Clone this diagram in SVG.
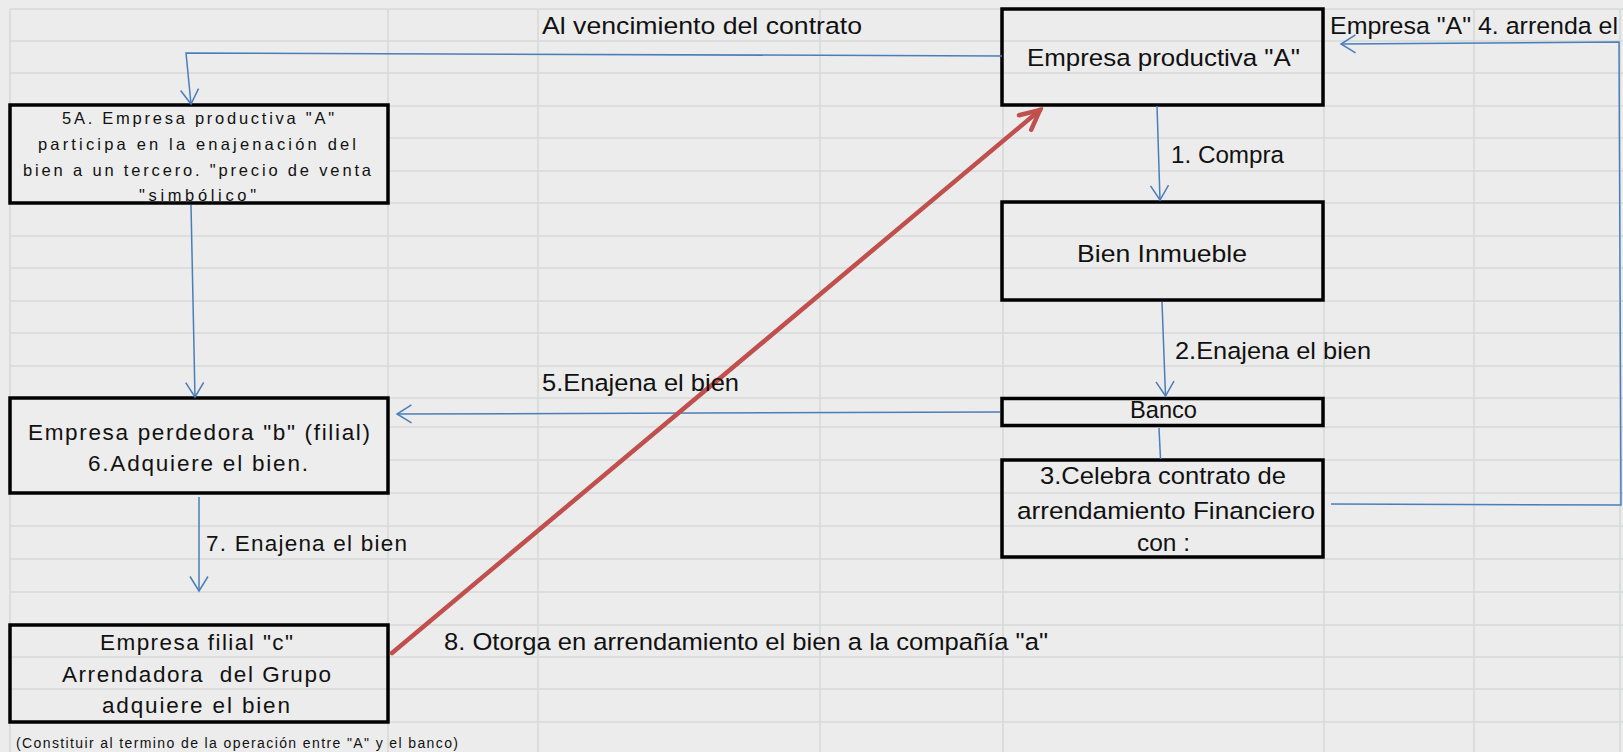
<svg xmlns="http://www.w3.org/2000/svg" width="1623" height="752" viewBox="0 0 1623 752">
<style>
.bg{fill:#ececec}
.grid line{stroke:#d7d9d9;stroke-width:1.6}
.box{fill:none;stroke:#000;stroke-width:3.5}
.boxf{fill:#ededed;stroke:#000;stroke-width:3.5}
.t{font-family:"Liberation Sans",Arial,sans-serif;font-size:24.5px;fill:#111}
.s{font-family:"Liberation Sans",Arial,sans-serif;font-size:16.5px;fill:#111}
.m{font-family:"Liberation Sans",Arial,sans-serif;font-size:22.5px;fill:#111}
.f{font-family:"Liberation Sans",Arial,sans-serif;font-size:14px;fill:#111}
.c{fill:none;stroke:#4a7ebb;stroke-width:1.5}
.r{fill:none;stroke:#c0504d;stroke-width:4.5;stroke-linecap:round}
</style>
<defs>
<marker id="ab" markerUnits="userSpaceOnUse" viewBox="-17 -11 19 22" markerWidth="19" markerHeight="22" refX="0" refY="0" orient="auto">
<path d="M-14.5,-9 L0,0 L-14.5,9" fill="none" stroke="#4a7ebb" stroke-width="1.5"/>
</marker>
<marker id="ar" markerUnits="userSpaceOnUse" viewBox="-24 -14 28 28" markerWidth="28" markerHeight="28" refX="0" refY="0" orient="auto">
<path d="M-19.5,-9.5 L0,0 L-19.5,9.5" fill="none" stroke="#c0504d" stroke-width="4.5" stroke-linecap="round" stroke-linejoin="miter"/>
</marker>
</defs>
<rect class="bg" x="0" y="0" width="1623" height="752"/>
<g class="grid">
<line x1="10" y1="9" x2="10" y2="752"/>
<line x1="388" y1="9" x2="388" y2="752"/>
<line x1="538" y1="9" x2="538" y2="752"/>
<line x1="820" y1="9" x2="820" y2="752"/>
<line x1="1003" y1="9" x2="1003" y2="752"/>
<line x1="1324" y1="9" x2="1324" y2="752"/>
<line x1="1474" y1="9" x2="1474" y2="752"/>
<line x1="1620" y1="9" x2="1620" y2="752"/>
<line x1="10" y1="9" x2="1623" y2="9"/>
<line x1="10" y1="41" x2="1623" y2="41"/>
<line x1="10" y1="73" x2="1623" y2="73"/>
<line x1="10" y1="106" x2="1623" y2="106"/>
<line x1="10" y1="138" x2="1623" y2="138"/>
<line x1="10" y1="171" x2="1623" y2="171"/>
<line x1="10" y1="203" x2="1623" y2="203"/>
<line x1="10" y1="236" x2="1623" y2="236"/>
<line x1="10" y1="268" x2="1623" y2="268"/>
<line x1="10" y1="301" x2="1623" y2="301"/>
<line x1="10" y1="333" x2="1623" y2="333"/>
<line x1="10" y1="366" x2="1623" y2="366"/>
<line x1="10" y1="398" x2="1623" y2="398"/>
<line x1="10" y1="427" x2="1623" y2="427"/>
<line x1="10" y1="460" x2="1623" y2="460"/>
<line x1="10" y1="493" x2="1623" y2="493"/>
<line x1="10" y1="526" x2="1623" y2="526"/>
<line x1="10" y1="559" x2="1623" y2="559"/>
<line x1="10" y1="592" x2="1623" y2="592"/>
<line x1="10" y1="625" x2="1623" y2="625"/>
<line x1="10" y1="657" x2="1623" y2="657"/>
<line x1="10" y1="689" x2="1623" y2="689"/>
<line x1="10" y1="722" x2="1623" y2="722"/>
</g>

<g id="node-empresa-a">
<rect class="box" x="1002" y="9" width="321" height="96"/>
<text class="t" x="1027" y="66" textLength="273" lengthAdjust="spacingAndGlyphs">Empresa productiva "A"</text>
</g>
<g id="node-bien">
<rect class="box" x="1002" y="202" width="321" height="98"/>
<text class="t" x="1077" y="262" textLength="170" lengthAdjust="spacingAndGlyphs">Bien Inmueble</text>
</g>
<g id="node-banco">
<rect class="box" x="1002" y="398.5" width="321" height="27"/>
<text class="t" x="1130" y="418" textLength="67" lengthAdjust="spacingAndGlyphs">Banco</text>
</g>
<g id="node-contrato">
<rect class="box" x="1002" y="460" width="321" height="97"/>
<text class="t" x="1040" y="484" textLength="246" lengthAdjust="spacingAndGlyphs">3.Celebra contrato de</text>
<text class="t" x="1017" y="519" textLength="298" lengthAdjust="spacingAndGlyphs">arrendamiento Financiero</text>
<text class="t" x="1137" y="551" textLength="53" lengthAdjust="spacingAndGlyphs">con :</text>
</g>
<g id="node-5a">
<rect class="boxf" x="10" y="105" width="378" height="98"/>
<text class="s" x="62" y="124" textLength="272">5A. Empresa productiva "A"</text>
<text class="s" x="38" y="150" textLength="318">participa en la enajenación del</text>
<text class="s" x="23" y="176" textLength="348">bien a un tercero. "precio de venta</text>
<text class="s" x="139" y="201" textLength="117">"simbólico"</text>
</g>
<g id="node-b">
<rect class="boxf" x="10" y="398" width="378" height="95"/>
<text class="m" x="28" y="440" textLength="342">Empresa perdedora "b" (filial)</text>
<text class="m" x="88" y="471" textLength="220">6.Adquiere el bien.</text>
</g>
<g id="node-c">
<rect class="box" x="10" y="625" width="378" height="97"/>
<text class="m" x="100" y="650" textLength="193">Empresa filial "c"</text>
<text class="m" x="62" y="682" textLength="269" xml:space="preserve">Arrendadora  del Grupo</text>
<text class="m" x="102" y="713" textLength="188">adquiere el bien</text>
</g>

<g id="connectors">
<path class="c" d="M1157,106 L1160,200" marker-end="url(#ab)"/>
<path class="c" d="M1162,302 L1165.5,396" marker-end="url(#ab)"/>
<path class="c" d="M1159,428 L1160.5,459"/>
<path class="c" d="M1331,504 L1621,505 L1619,42 L1341,44" marker-end="url(#ab)"/>
<path class="c" d="M1002,56 L186,53 L191,104" marker-end="url(#ab)"/>
<path class="c" d="M1000,412 L397,414" marker-end="url(#ab)"/>
<path class="c" d="M191,205 L195,397" marker-end="url(#ab)"/>
<path class="c" d="M199,497 L199,591" marker-end="url(#ab)"/>
<path class="r" d="M392,653 L1040,110" marker-end="url(#ar)"/>
</g>

<g id="labels">
<text class="t" x="542" y="34" textLength="320" lengthAdjust="spacingAndGlyphs">Al vencimiento del contrato</text>
<text class="t" x="1330" y="34" textLength="288" lengthAdjust="spacingAndGlyphs">Empresa "A" 4. arrenda el</text>
<text class="t" x="1171" y="163" textLength="113" lengthAdjust="spacingAndGlyphs">1. Compra</text>
<text class="t" x="1175" y="359" textLength="196" lengthAdjust="spacingAndGlyphs">2.Enajena el bien</text>
<text class="t" x="542" y="391" textLength="197" lengthAdjust="spacingAndGlyphs">5.Enajena el bien</text>
<text class="m" x="206" y="551" textLength="201">7. Enajena el bien</text>
<text class="t" x="444" y="650" textLength="604" lengthAdjust="spacingAndGlyphs">8. Otorga en arrendamiento el bien a la compañía "a"</text>
<text class="f" x="16" y="748" textLength="442">(Constituir al termino de la operación entre "A" y el banco)</text>
</g>
</svg>
